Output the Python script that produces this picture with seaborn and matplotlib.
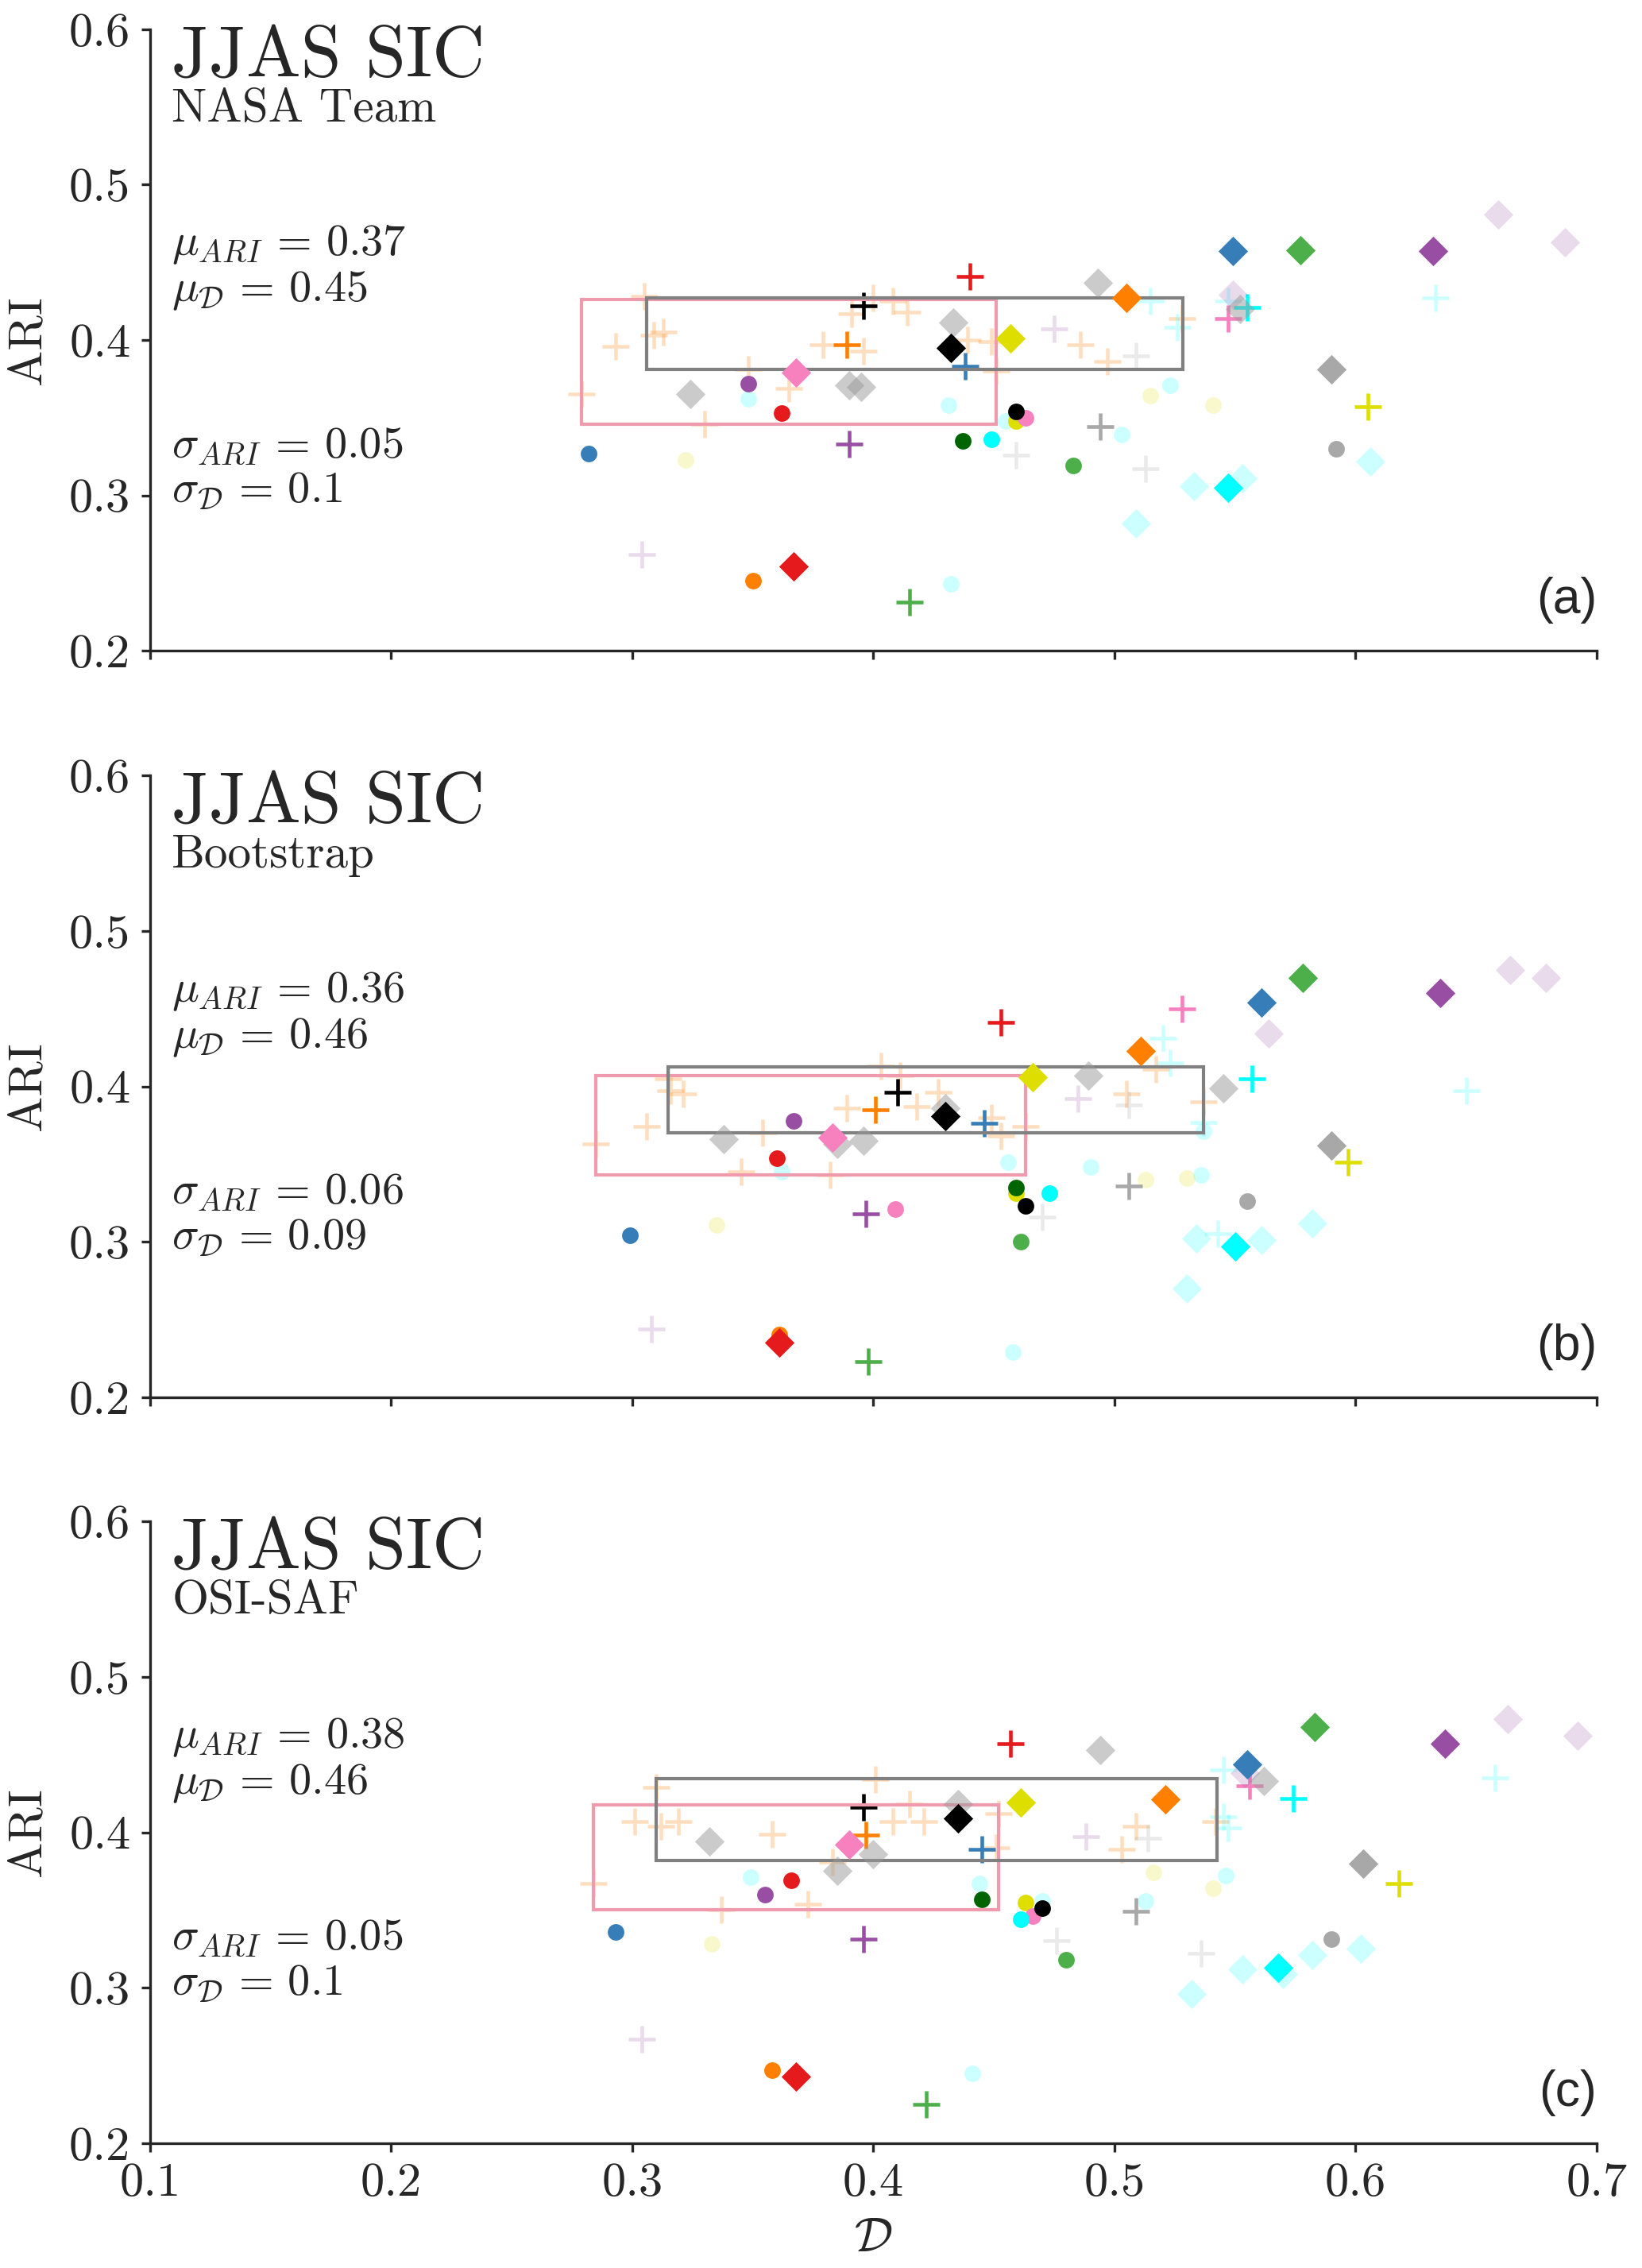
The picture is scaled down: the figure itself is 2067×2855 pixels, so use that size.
import matplotlib
matplotlib.use("Agg")
import matplotlib.pyplot as plt
from matplotlib.patches import Rectangle
import seaborn as sns
import pandas as pd

# ---------------------------------------------------------------
# datos
# ---------------------------------------------------------------
x_ticks = [0.1, 0.2, 0.3, 0.4, 0.5, 0.6, 0.7]
x_tick_labels = ["0.1", "0.2", "0.3", "0.4", "0.5", "0.6", "0.7"]
y_ticks = [0.2, 0.3, 0.4, 0.5, 0.6]
y_tick_labels = ["0.2", "0.3", "0.4", "0.5", "0.6"]

panel_tags = ["(a)", "(b)", "(c)"]
products = ["NASA Team", "Bootstrap", "OSI-SAF"]
mu_ari = ["0.37", "0.36", "0.38"]
mu_d = ["0.45", "0.46", "0.46"]
sd_ari = ["0.05", "0.06", "0.05"]
sd_d = ["0.1", "0.09", "0.1"]

# cajas: [D min, D max, ARI min, ARI max]
box_pink = [[0.279, 0.451, 0.346, 0.426],
            [0.285, 0.463, 0.343, 0.407],
            [0.284, 0.452, 0.350, 0.4175]]
box_gray = [[0.306, 0.5285, 0.381, 0.427],
            [0.315, 0.537, 0.370, 0.4127],
            [0.310, 0.5424, 0.382, 0.4344]]

# ---- panel (a) ----
a_circ_grp = ["blue", "yellow_f", "purple", "cyan_f", "red", "orange", "cyan_f", "black", "cyan_f", "yellow",
              "pink", "dkgreen", "cyan", "green", "cyan_f", "yellow_f", "cyan_f", "yellow_f", "gray", "cyan_f"]
a_circ_d = [0.282, 0.322, 0.348, 0.348, 0.362, 0.350, 0.431, 0.459, 0.455, 0.459,
            0.463, 0.437, 0.449, 0.483, 0.503, 0.515, 0.523, 0.541, 0.592, 0.432]
a_circ_ari = [0.327, 0.323, 0.372, 0.362, 0.353, 0.245, 0.358, 0.354, 0.348, 0.348,
              0.350, 0.335, 0.336, 0.319, 0.339, 0.364, 0.371, 0.358, 0.330, 0.243]

a_plus_grp = ["orange_f"] * 20 + ["black", "orange", "blue", "red", "purple", "green", "gray",
                                  "gray_f", "gray_f", "gray_f", "purple_f", "purple_f",
                                  "cyan_f", "cyan_f", "cyan_f", "cyan_f", "cyan", "pink", "yellow"]
a_plus_d = [0.305, 0.309, 0.313, 0.293, 0.279, 0.348, 0.365, 0.330, 0.400, 0.408,
            0.414, 0.391, 0.379, 0.396, 0.439, 0.449, 0.451, 0.486, 0.497, 0.528,
            0.396, 0.389, 0.438, 0.440, 0.390, 0.415, 0.494,
            0.509, 0.459, 0.513, 0.304, 0.475,
            0.515, 0.526, 0.547, 0.633, 0.555, 0.547, 0.605]
a_plus_ari = [0.428, 0.403, 0.405, 0.396, 0.365, 0.381, 0.369, 0.346, 0.427, 0.425,
              0.418, 0.417, 0.397, 0.393, 0.400, 0.399, 0.380, 0.397, 0.386, 0.414,
              0.422, 0.397, 0.383, 0.441, 0.333, 0.231, 0.344,
              0.390, 0.326, 0.317, 0.262, 0.407,
              0.425, 0.408, 0.425, 0.427, 0.421, 0.414, 0.357]

a_dia_grp = ["gray_h"] * 6 + ["gray", "pink", "red", "black", "yellow", "orange", "blue", "green",
                              "purple", "cyan_f", "cyan_f", "cyan_f", "cyan_f", "cyan",
                              "purple_f", "purple_f", "purple_f"]
a_dia_d = [0.324, 0.433, 0.493, 0.390, 0.395, 0.552,
           0.590, 0.368, 0.367, 0.432, 0.457, 0.505, 0.549, 0.577,
           0.632, 0.509, 0.533, 0.553, 0.606, 0.547,
           0.549, 0.659, 0.687]
a_dia_ari = [0.365, 0.411, 0.437, 0.371, 0.370, 0.420,
             0.381, 0.379, 0.254, 0.395, 0.401, 0.427, 0.457, 0.458,
             0.457, 0.282, 0.306, 0.311, 0.322, 0.305,
             0.429, 0.481, 0.463]

# ---- panel (b) ----
b_circ_grp = ["blue", "yellow_f", "purple", "red", "cyan_f", "orange", "cyan_f", "dkgreen", "yellow", "black",
              "cyan", "pink", "green", "cyan_f", "yellow_f", "yellow_f", "cyan_f", "cyan_f", "gray", "cyan_f"]
b_circ_d = [0.299, 0.335, 0.367, 0.360, 0.362, 0.361, 0.456, 0.459, 0.459, 0.463,
            0.473, 0.409, 0.461, 0.490, 0.513, 0.530, 0.536, 0.537, 0.555, 0.458]
b_circ_ari = [0.304, 0.311, 0.378, 0.354, 0.345, 0.240, 0.351, 0.335, 0.331, 0.323,
              0.331, 0.321, 0.300, 0.348, 0.340, 0.341, 0.343, 0.371, 0.326, 0.229]

b_plus_grp = ["orange_f"] * 19 + ["black", "orange", "blue", "red", "purple", "green", "gray",
                                  "gray_f", "gray_f", "purple_f", "purple_f",
                                  "cyan_f", "cyan_f", "cyan_f", "cyan_f", "cyan_f", "cyan", "pink", "yellow"]
b_plus_d = [0.315, 0.316, 0.321, 0.306, 0.285, 0.354, 0.345, 0.382, 0.389, 0.403,
            0.411, 0.418, 0.427, 0.449, 0.453, 0.463, 0.505, 0.517, 0.537,
            0.410, 0.401, 0.446, 0.453, 0.397, 0.398, 0.506,
            0.506, 0.470, 0.308, 0.485,
            0.520, 0.523, 0.537, 0.543, 0.646, 0.557, 0.528, 0.597]
b_plus_ari = [0.405, 0.397, 0.395, 0.374, 0.363, 0.370, 0.345, 0.343, 0.386, 0.413,
              0.407, 0.387, 0.396, 0.380, 0.368, 0.374, 0.395, 0.411, 0.390,
              0.396, 0.385, 0.376, 0.441, 0.318, 0.223, 0.336,
              0.388, 0.316, 0.244, 0.392,
              0.431, 0.415, 0.377, 0.305, 0.397, 0.405, 0.450, 0.351]

b_dia_grp = ["gray_h"] * 6 + ["gray", "pink", "red", "black", "yellow", "orange", "blue", "green",
                              "purple", "cyan_f", "cyan_f", "cyan_f", "cyan_f", "cyan",
                              "purple_f", "purple_f", "purple_f"]
b_dia_d = [0.338, 0.385, 0.396, 0.430, 0.489, 0.545,
           0.590, 0.383, 0.361, 0.430, 0.466, 0.511, 0.561, 0.578,
           0.635, 0.530, 0.534, 0.561, 0.582, 0.550,
           0.564, 0.664, 0.679]
b_dia_ari = [0.366, 0.363, 0.365, 0.386, 0.407, 0.399,
             0.362, 0.367, 0.235, 0.381, 0.406, 0.423, 0.454, 0.470,
             0.460, 0.270, 0.302, 0.301, 0.312, 0.297,
             0.434, 0.475, 0.470]

# ---- panel (c) ----
c_circ_grp = ["blue", "yellow_f", "cyan_f", "red", "purple", "orange", "cyan_f", "dkgreen", "yellow", "black",
              "cyan_f", "pink", "cyan", "green", "cyan_f", "yellow_f", "yellow_f", "cyan_f", "gray", "cyan_f"]
c_circ_d = [0.293, 0.333, 0.349, 0.366, 0.355, 0.358, 0.444, 0.445, 0.463, 0.470,
            0.470, 0.466, 0.461, 0.480, 0.513, 0.516, 0.541, 0.546, 0.590, 0.441]
c_circ_ari = [0.336, 0.328, 0.371, 0.369, 0.360, 0.247, 0.367, 0.357, 0.355, 0.351,
              0.356, 0.346, 0.344, 0.318, 0.356, 0.374, 0.364, 0.372, 0.331, 0.245]

c_plus_grp = ["orange_f"] * 18 + ["black", "orange", "blue", "red", "purple", "green", "gray",
                                  "gray_f", "gray_f", "gray_f", "purple_f", "purple_f",
                                  "cyan_f", "cyan_f", "cyan_f", "cyan_f", "cyan", "pink", "yellow"]
c_plus_d = [0.310, 0.301, 0.312, 0.319, 0.358, 0.284, 0.337, 0.373, 0.383, 0.401,
            0.415, 0.408, 0.421, 0.452, 0.451, 0.509, 0.503, 0.542,
            0.396, 0.397, 0.445, 0.457, 0.396, 0.422, 0.509,
            0.514, 0.476, 0.536, 0.304, 0.488,
            0.545, 0.545, 0.547, 0.658, 0.574, 0.556, 0.618]
c_plus_ari = [0.429, 0.407, 0.404, 0.407, 0.399, 0.367, 0.350, 0.354, 0.381, 0.434,
              0.418, 0.407, 0.407, 0.412, 0.390, 0.404, 0.389, 0.407,
              0.416, 0.398, 0.389, 0.457, 0.331, 0.225, 0.349,
              0.396, 0.330, 0.322, 0.267, 0.397,
              0.440, 0.410, 0.403, 0.435, 0.422, 0.430, 0.367]

c_dia_grp = ["gray_h"] * 6 + ["gray", "pink", "red", "black", "yellow", "orange", "blue", "green",
                              "purple", "cyan_f", "cyan_f", "cyan_f", "cyan_f", "cyan_f", "cyan",
                              "purple_f", "purple_f", "purple_f"]
c_dia_d = [0.332, 0.385, 0.400, 0.435, 0.494, 0.562,
           0.603, 0.390, 0.368, 0.435, 0.461, 0.521, 0.555, 0.583,
           0.637, 0.532, 0.553, 0.570, 0.582, 0.602, 0.568,
           0.554, 0.663, 0.692]
c_dia_ari = [0.394, 0.375, 0.386, 0.418, 0.453, 0.433,
             0.380, 0.392, 0.243, 0.409, 0.419, 0.421, 0.444, 0.468,
             0.457, 0.296, 0.312, 0.309, 0.321, 0.325, 0.313,
             0.438, 0.473, 0.462]

# ---------------------------------------------------------------
# estilo
# ---------------------------------------------------------------
colores = {
    "red": ("#e41a1c", 1.0), "blue": ("#377eb8", 1.0), "green": ("#4daf4a", 1.0),
    "purple": ("#984ea3", 1.0), "orange": ("#ff7f00", 1.0), "yellow": ("#dede00", 1.0),
    "pink": ("#f781bf", 1.0), "gray": ("#999999", 0.85), "black": ("#000000", 1.0),
    "cyan": ("#00ffff", 1.0), "dkgreen": ("#006400", 1.0),
    "orange_f": ("#ff7f00", 0.25), "cyan_f": ("#00ffff", 0.2), "purple_f": ("#984ea3", 0.2),
    "yellow_f": ("#dede00", 0.2), "gray_f": ("#999999", 0.2), "gray_h": ("#999999", 0.5),
}
orden = ["orange_f", "cyan_f", "purple_f", "yellow_f", "gray_f", "gray_h",
         "gray", "red", "blue", "green", "purple", "orange", "yellow", "pink",
         "cyan", "dkgreen", "black"]
marcadores = {"o": dict(s=25, linewidth=0, zorder=2),
              "+": dict(s=64, linewidth=1.1, zorder=2),
              "D": dict(s=40, linewidth=0, zorder=4)}

sns.set_style("ticks")
plt.rcParams.update({
    "font.family": "serif",
    "font.serif": ["cmr10"],
    "mathtext.fontset": "cm",
    "axes.formatter.use_mathtext": True,
    "axes.unicode_minus": False,
    "axes.linewidth": 0.8,
})

paneles = [
    (a_circ_grp, a_circ_d, a_circ_ari, a_plus_grp, a_plus_d, a_plus_ari, a_dia_grp, a_dia_d, a_dia_ari),
    (b_circ_grp, b_circ_d, b_circ_ari, b_plus_grp, b_plus_d, b_plus_ari, b_dia_grp, b_dia_d, b_dia_ari),
    (c_circ_grp, c_circ_d, c_circ_ari, c_plus_grp, c_plus_d, c_plus_ari, c_dia_grp, c_dia_d, c_dia_ari),
]


def tabla_panel(p):
    partes = []
    for k, mk in enumerate(["o", "+", "D"]):
        partes.append(pd.DataFrame({"grp": p[3 * k], "D": p[3 * k + 1],
                                    "ARI": p[3 * k + 2], "mk": mk}))
    return pd.concat(partes, ignore_index=True)


fig = plt.figure(figsize=(2067 / 300, 2855 / 300), dpi=300)
bottoms = [0.7131, 0.3840, 0.0551]

for i, p in enumerate(paneles):
    ax = fig.add_axes([0.0914, bottoms[i], 0.881, 0.274])
    df = tabla_panel(p)

    # puntos: primero los colores tenues, luego los fuertes
    for g in orden:
        col, alp = colores[g]
        for mk in ["o", "+", "D"]:
            sub = df[(df["grp"] == g) & (df["mk"] == mk)]
            if sub.empty:
                continue
            sns.scatterplot(data=sub, x="D", y="ARI", ax=ax, color=col, alpha=alp,
                            marker=mk, legend=False, **marcadores[mk])

    # cajas
    x0, x1, y0, y1 = box_pink[i]
    ax.add_patch(Rectangle((x0, y0), x1 - x0, y1 - y0, fill=False,
                           edgecolor="#f09aae", linewidth=1.0, zorder=3))
    x0, x1, y0, y1 = box_gray[i]
    ax.add_patch(Rectangle((x0, y0), x1 - x0, y1 - y0, fill=False,
                           edgecolor="#808080", linewidth=1.0, zorder=3))

    ax.set_xlim(0.1, 0.7)
    ax.set_ylim(0.2, 0.6)
    ax.set_yticks(y_ticks, y_tick_labels)
    if i == 2:
        ax.set_xticks(x_ticks, x_tick_labels)
        ax.set_xlabel(r"$\mathcal{D}$", fontsize=14.5, labelpad=4)
    else:
        ax.set_xticks(x_ticks, [""] * len(x_ticks))
        ax.set_xlabel("")
    ax.set_ylabel("ARI", fontsize=14.5, labelpad=6)
    ax.tick_params(length=2.6, width=0.8, pad=3.3, labelsize=14.5, direction="out")
    sns.despine(ax=ax)

    # textos
    tr = ax.transAxes
    ax.text(0.015, 0.924, "JJAS SIC", transform=tr, fontsize=22, va="baseline")
    ax.text(0.015, 0.852, products[i], transform=tr, fontsize=14.2, va="baseline")
    ax.text(0.015, 0.636, r"$\mu_{ARI}\,=\,%s$" % mu_ari[i], transform=tr, fontsize=13.5, va="baseline")
    ax.text(0.015, 0.562, r"$\mu_{\mathcal{D}}\,=\,%s$" % mu_d[i], transform=tr, fontsize=13.5, va="baseline")
    ax.text(0.015, 0.312, r"$\sigma_{ARI}\,=\,%s$" % sd_ari[i], transform=tr, fontsize=13.5, va="baseline")
    ax.text(0.015, 0.238, r"$\sigma_{\mathcal{D}}\,=\,%s$" % sd_d[i], transform=tr, fontsize=13.5, va="baseline")
    ax.text(1.0, 0.06, panel_tags[i], transform=tr, fontsize=15, ha="right", va="baseline",
            family=["Liberation Sans", "DejaVu Sans"])

fig.savefig("out.png", dpi=300)
